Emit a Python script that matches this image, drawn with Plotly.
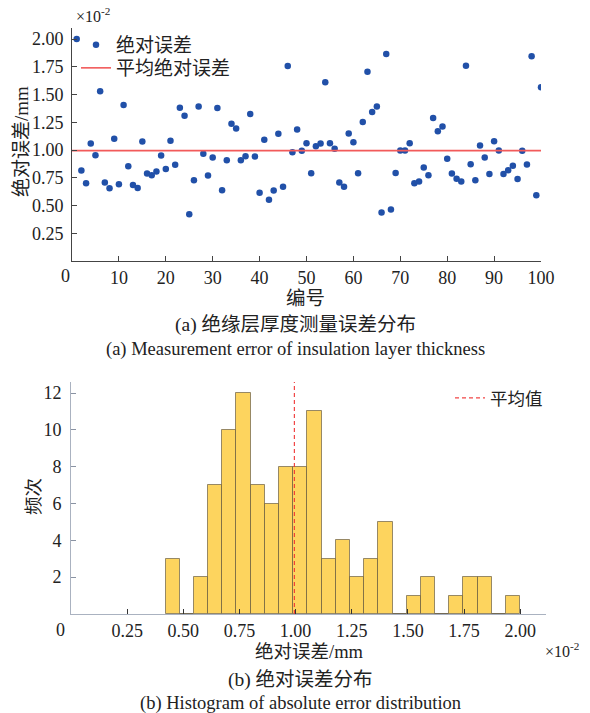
import numpy as np
import plotly.graph_objects as go

# ---------------- data (absolute error, unit: 1e-2 mm) ----------------
sample_no = list(range(1, 101))
abs_error = [
    2.000, 0.816, 0.700, 1.058, 0.954, 1.529, 0.707, 0.656, 1.101, 0.692,
    1.405, 0.855, 0.686, 0.659, 1.078, 0.789, 0.773, 0.806, 0.951, 0.830,
    1.083, 0.868, 1.381, 1.310, 0.421, 0.728, 1.393, 0.966, 0.771, 0.933,
    1.378, 0.638, 0.909, 1.238, 1.195, 0.909, 0.945, 1.324, 0.942, 0.616,
    1.092, 0.552, 0.635, 1.146, 0.670, 1.757, 0.981, 1.185, 0.993, 1.062,
    0.792, 1.035, 1.058, 1.610, 1.062, 1.011, 0.707, 0.670, 1.150, 1.071,
    0.792, 1.252, 1.706, 1.342, 1.393, 0.437, 1.866, 0.464, 0.794, 0.996,
    0.996, 1.062, 0.701, 0.716, 0.843, 0.773, 1.288, 1.170, 1.213, 0.921,
    0.789, 0.742, 0.716, 1.760, 0.873, 0.728, 1.041, 0.932, 0.785, 1.080,
    0.996, 0.785, 0.818, 0.858, 0.740, 0.993, 0.870, 1.845, 0.593, 1.565,
]
n_bins = 25
top_xticks = list(range(0, 101, 10))
top_xticktext = [""] + [str(v) for v in top_xticks[1:]]
top_yticks = [0.25, 0.50, 0.75, 1.00, 1.25, 1.50, 1.75, 2.00]
hist_xticks = [0.25, 0.50, 0.75, 1.00, 1.25, 1.50, 1.75, 2.00]
hist_yticks = [2, 4, 6, 8, 10, 12]

# ---------------- derived ----------------
err = np.array(abs_error)
mean_err = float(err.mean())
counts, edges = np.histogram(err, bins=n_bins)
centers = (edges[:-1] + edges[1:]) / 2
widths = np.diff(edges)

W, H = 590, 713
def px(x):
    return x / W
def py(y):
    return (H - y) / H

LAT = "Liberation Serif"
CJK = "Liberation Serif, Noto Sans CJK SC, sans-serif"

fig = go.Figure()

# top scatter
fig.add_trace(go.Scatter(
    x=sample_no, y=abs_error, mode="markers", name="绝对误差",
    marker=dict(color="#2150a8", size=6.5),
    xaxis="x", yaxis="y", legend="legend",
))
fig.add_trace(go.Scatter(
    x=[0, 100], y=[mean_err, mean_err], mode="lines", name="平均绝对误差",
    line=dict(color="#f25a5a", width=1.6),
    xaxis="x", yaxis="y", legend="legend3",
))

# histogram
fig.add_trace(go.Bar(
    x=centers, y=counts, width=widths, name="频次", showlegend=False,
    marker=dict(color="rgba(253,208,80,0.92)",
                line=dict(color="rgba(95,85,60,0.65)", width=1)),
    xaxis="x2", yaxis="y2",
))
fig.add_trace(go.Scatter(
    x=[mean_err, mean_err], y=[0, 12.6], mode="lines", name="平均值",
    line=dict(color="rgba(240,50,50,0.9)", width=1.2, dash="4px,3px"),
    xaxis="x2", yaxis="y2", legend="legend2",
))

axis_common = dict(showgrid=False, zeroline=False, ticks="inside", ticklen=5,
                   showline=True, mirror=False, automargin=False,
                   tickfont=dict(family=LAT, size=18, color="#222"))

leg = dict(xanchor="left", yanchor="middle", bgcolor="rgba(0,0,0,0)",
           itemwidth=30)

fig.update_layout(
    width=W, height=H,
    margin=dict(l=0, r=0, t=0, b=0, pad=0, autoexpand=False),
    paper_bgcolor="white", plot_bgcolor="white",
    font=dict(family=CJK, size=18, color="#222"),
    xaxis=dict(domain=[px(72), px(541)], range=[0, 100], anchor="y",
               tickvals=top_xticks, ticktext=top_xticktext,
               linecolor="#444", tickcolor="#444", **axis_common),
    yaxis=dict(domain=[py(261), py(28)], range=[0, 2.1], anchor="x",
               tickvals=top_yticks, tickformat=".2f", linecolor="#444",
               tickcolor="#444", ticklabelstandoff=4, **axis_common),
    xaxis2=dict(domain=[px(71), px(546)], range=[0, 2.115], anchor="y2",
                tickvals=hist_xticks, tickformat=".2f",
                linecolor="#aab2c0", tickcolor="#333", **axis_common),
    yaxis2=dict(domain=[py(614), py(382)], range=[0, 12.6], anchor="x2",
                tickvals=hist_yticks, linecolor="#aab2c0", tickcolor="#8a93a3",
                ticklabelstandoff=5, **axis_common),
    bargap=0,
    legend=dict(x=px(76), y=py(45), font=dict(family=CJK, size=19), **leg),
    legend3=dict(x=px(76), y=py(68), font=dict(family=CJK, size=19), **leg),
    legend2=dict(x=px(450), y=py(398), font=dict(family=CJK, size=17.5), **leg),
    showlegend=True,
)

ann = []
def add(text, x, y, size=18, angle=0, xanchor="center"):
    ann.append(dict(text=text, x=px(x), y=py(y), xref="paper", yref="paper",
                    showarrow=False, xanchor=xanchor, yanchor="middle",
                    textangle=angle, font=dict(family=CJK, size=size, color="#222")))

add("×10<sup>-2</sup>", 74, 15, size=16, xanchor="left")
add("绝对误差/mm", 21, 142, size=19, angle=-90)
add("0", 65, 276, size=18)
add("编号", 305, 298, size=19.5)
add("(a) 绝缘层厚度测量误差分布", 295, 325, size=19.5)
add("(a) Measurement error of insulation layer thickness", 295, 349, size=18.5)
add("频次", 34, 497, size=18.5, angle=-90)
add("0", 61, 630, size=18)
add("绝对误差/mm", 309, 652, size=18.5)
add("×10<sup>-2</sup>", 543, 650, size=16, xanchor="left")
add("(b) 绝对误差分布", 300, 680, size=19.5)
add("(b) Histogram of absolute error distribution", 300, 703, size=18.5)
fig.update_layout(annotations=ann)

css_js = ("document.documentElement.style.margin='0';"
          "document.documentElement.style.padding='0';"
          "document.documentElement.style.overflow='hidden';"
          "document.body.style.margin='0';document.body.style.padding='0';"
          "document.body.style.overflow='hidden';")
fig.write_html("out.html", config={"displayModeBar": False}, post_script=css_js)
